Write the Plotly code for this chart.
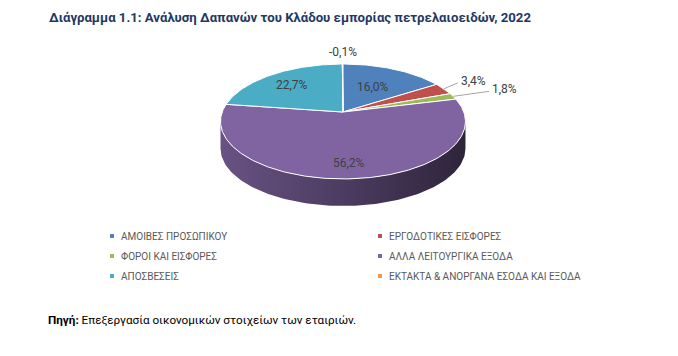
import numpy as np
import plotly.graph_objects as go

# ---------------- data ----------------
categories = [
    "ΑΜΟΙΒΕΣ ΠΡΟΣΩΠΙΚΟΥ",
    "ΕΡΓΟΔΟΤΙΚΕΣ ΕΙΣΦΟΡΕΣ",
    "ΦΟΡΟΙ ΚΑΙ ΕΙΣΦΟΡΕΣ",
    "ΑΛΛΑ ΛΕΙΤΟΥΡΓΙΚΑ ΕΞΟΔΑ",
    "ΑΠΟΣΒΕΣΕΙΣ",
    "ΕΚΤΑΚΤΑ & ΑΝΟΡΓΑΝΑ ΕΣΟΔΑ ΚΑΙ ΕΞΟΔΑ",
]
values = [16.0, 3.4, 1.8, 56.2, 22.7, -0.1]
title_text = "Διάγραμμα 1.1: Ανάλυση Δαπανών του Κλάδου εμπορίας πετρελαιοειδών, 2022"
source_bold = "Πηγή:"
source_text = " Επεξεργασία οικονομικών στοιχείων των εταιριών."

# ---------------- style ----------------
colors = ["#4f81bd", "#c0504d", "#9bbb59", "#8064a2", "#4bacc6", "#f79646"]
label_mode = ["in", "out", "out", "in", "in", "top"]
label_r = [0.55, 1.0, 1.0, 0.8, 0.7, 1.0]
out_offset = [None, (14, -6), (36, -5), None, None, None]
FONT = "Roboto"
W, H = 678, 356
OFF = 8  # page body margin compensation
CX, CY = 343, 112
A, B, K = 120.8, 55.9, 0.165
DEPTH = 27


def proj(t, f=1.0):
    u = f * np.sin(t)
    v = -f * np.cos(t)
    d = 1 - K * v
    return CX + A * u / d, CY + B * v / d


def shade(hexc, k):
    h = hexc.lstrip("#")
    r, g, b = (int(h[i:i + 2], 16) for i in (0, 2, 4))
    return "rgb(%d,%d,%d)" % (r * k, g * k, b * k)


absv = np.abs(np.array(values))
total = absv.sum()
bounds = np.concatenate([[0], np.cumsum(absv)]) / total * 2 * np.pi

fig = go.Figure()

# side (visible front band)
t1 = np.arccos(-K)
t2 = 2 * np.pi - t1
xmin = CX - A / np.sqrt(1 - K * K)
xmax = CX + A / np.sqrt(1 - K * K)
for i, c in enumerate(colors):
    a0, a1 = max(bounds[i], t1), min(bounds[i + 1], t2)
    if a1 <= a0:
        continue
    ts = np.linspace(a0, a1, 120)
    xt, yt = proj(ts)
    xs = np.concatenate([xt, xt[::-1]])
    ys = np.concatenate([yt, (yt + DEPTH)[::-1]])
    fig.add_trace(go.Scatter(
        x=xs, y=ys, mode="lines", fill="toself", line=dict(width=0),
        fillgradient=dict(type="horizontal", start=xmin, stop=xmax,
                          colorscale=[[0, shade(c, 0.82)], [0.5, shade(c, 0.6)], [1, shade(c, 0.36)]]),
        hoverinfo="skip", showlegend=False))

# top face
for i, c in enumerate(colors):
    ts = np.linspace(bounds[i], bounds[i + 1], max(3, int(400 * absv[i] / total)))
    xt, yt = proj(ts)
    xs = np.concatenate([[CX], xt, [CX]])
    ys = np.concatenate([[CY], yt, [CY]])
    fig.add_trace(go.Scatter(
        x=xs, y=ys, mode="lines", fill="toself", fillcolor=c,
        line=dict(color="white", width=1), hoverinfo="skip", showlegend=False))

# data labels
annotations = []
lab_font = dict(family=FONT, size=12, color="#404040")
for i, v in enumerate(values):
    txt = ("%.1f" % v).replace(".", ",") + "%"
    mid = (bounds[i] + bounds[i + 1]) / 2
    if label_mode[i] == "in":
        x, y = proj(mid, label_r[i])
        annotations.append(dict(x=x, y=y, xref="x", yref="y", text=txt, showarrow=False,
                                font=lab_font, xanchor="center", yanchor="middle"))
    elif label_mode[i] == "out":
        x0, y0 = proj(mid, label_r[i])
        dx, dy = out_offset[i]
        fig.add_trace(go.Scatter(x=[x0, x0 + dx], y=[y0, y0 + dy], mode="lines",
                                 line=dict(color="#a6a6a6", width=1),
                                 hoverinfo="skip", showlegend=False))
        annotations.append(dict(x=x0 + dx + 1, y=y0 + dy - 2, xref="x", yref="y", text=txt,
                                showarrow=False, font=lab_font, xanchor="left", yanchor="middle"))
    else:
        x0, y0 = proj(mid, 1.0)
        annotations.append(dict(x=x0, y=y0 - 3, xref="x", yref="y", text=txt, showarrow=False,
                                font=lab_font, xanchor="center", yanchor="bottom"))

# legend (two columns, row-major order)
shapes = []
leg_x = [112, 380]
leg_y = [236, 256, 276]
for i, (name, c) in enumerate(zip(categories, colors)):
    col, row = i % 2, i // 2
    x, y = leg_x[col], leg_y[row]
    shapes.append(dict(type="rect", xref="x", yref="y", x0=x - 2, x1=x + 2, y0=y - 2, y1=y + 2,
                       fillcolor=c, line=dict(width=0)))
    annotations.append(dict(x=x + 7, y=y, xref="x", yref="y", text=name, showarrow=False,
                            xanchor="left", yanchor="middle",
                            font=dict(family=FONT, size=10, color="#595959")))

# title and source
annotations.append(dict(x=47, y=17, xref="x", yref="y", text="<b>%s</b>" % title_text,
                        showarrow=False, xanchor="left", yanchor="middle",
                        font=dict(family=FONT, size=13.2, color="#1f3864")))
annotations.append(dict(x=46, y=320, xref="x", yref="y",
                        text="<b>%s</b>%s" % (source_bold, source_text),
                        showarrow=False, xanchor="left", yanchor="middle",
                        font=dict(family=FONT, size=11.7, color="#000000")))

fig.update_layout(
    width=W, height=H, margin=dict(l=0, r=0, t=0, b=0),
    paper_bgcolor="white", plot_bgcolor="white",
    xaxis=dict(range=[OFF, W + OFF], visible=False, fixedrange=True),
    yaxis=dict(range=[H + OFF, OFF], visible=False, fixedrange=True),
    annotations=annotations, shapes=shapes, showlegend=False,
)
fig.write_html("out.html")
